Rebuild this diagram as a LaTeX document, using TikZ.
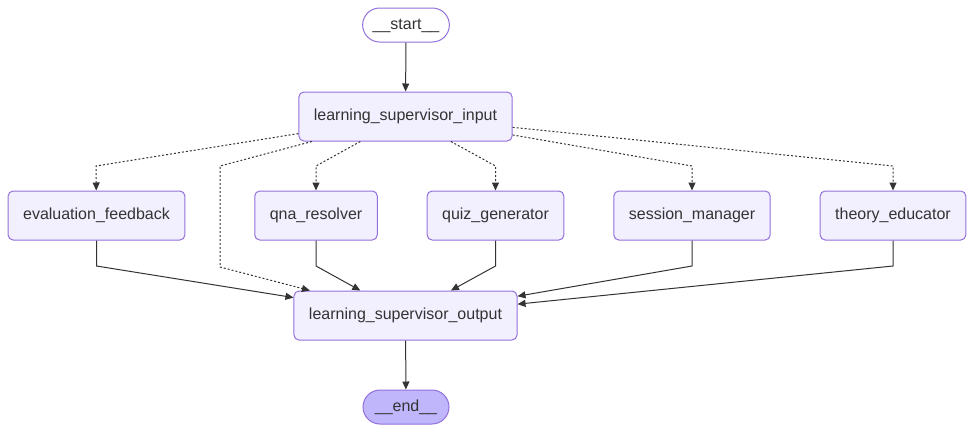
\documentclass[tikz,border=0pt]{standalone}
\usepackage{fontspec}
\setmainfont{Liberation Sans}
\usetikzlibrary{arrows.meta}

\definecolor{nodefill}{HTML}{F2F0FF}
\definecolor{nodeline}{HTML}{9370DB}
\definecolor{endfill}{HTML}{BFB6FC}
\definecolor{inkgrey}{HTML}{333333}

\begin{document}
\begin{tikzpicture}[x=1pt, y=-1pt, >={Triangle[length=8pt, width=7pt]},
    box/.style={draw=nodeline, fill=nodefill, line width=1pt, rounded corners=5pt,
        minimum height=49pt, inner xsep=15pt, text=inkgrey,
        font=\fontsize{16}{19}\selectfont, text height=11.5pt, text depth=3.5pt},
    pill/.style={box, rounded corners=17pt, minimum height=34pt, inner xsep=10pt, minimum width=86pt},
    flow/.style={->, draw=inkgrey, line width=1pt},
    maybe/.style={flow, dash pattern=on 2pt off 2pt}]
    \useasboundingbox (0,0) rectangle (974,432);

    % --- WEJSCIE / WYJSCIE ---
    \node[pill, fill=white] (start) at (406, 25) {\_\_start\_\_};
    \node[box] (input) at (405.5, 116.5) {learning\_supervisor\_input};
    \node[box] (output) at (405.5, 315.5) {learning\_supervisor\_output};
    \node[pill, fill=endfill] (end) at (406, 407) {\_\_end\_\_};

    % --- AGENCI ---
    \node[box] (evalfb) at (96.5, 215.5) {evaluation\_feedback};
    \node[box] (qna) at (316, 215.5) {qna\_resolver};
    \node[box] (quiz) at (495.5, 215.5) {quiz\_generator};
    \node[box] (session) at (692, 215.5) {session\_manager};
    \node[box] (theory) at (893, 215.5) {theory\_educator};

    % --- KRAWEDZIE ---
    \draw[flow] (start) -- (input);
    \draw[maybe] (input) -- (96,166) -- (evalfb);
    \draw[maybe] (input) -- (220,166) -- (220,267) -- (output);
    \draw[maybe] (input) -- (316,166) -- (qna);
    \draw[maybe] (input) -- (495.5,166) -- (quiz);
    \draw[maybe] (input) -- (692,166) -- (session);
    \draw[maybe] (input) -- (893,166) -- (theory);

    \draw[flow] (evalfb) -- (96.5,266) -- (output);
    \draw[flow] (qna) -- (316,266) -- (output);
    \draw[flow] (quiz) -- (495.5,266) -- (output);
    \draw[flow] (session) -- (692,266) -- (output);
    \draw[flow] (theory) -- (893,266) -- (output);
    \draw[flow] (output) -- (end);

\end{tikzpicture}
\end{document}
